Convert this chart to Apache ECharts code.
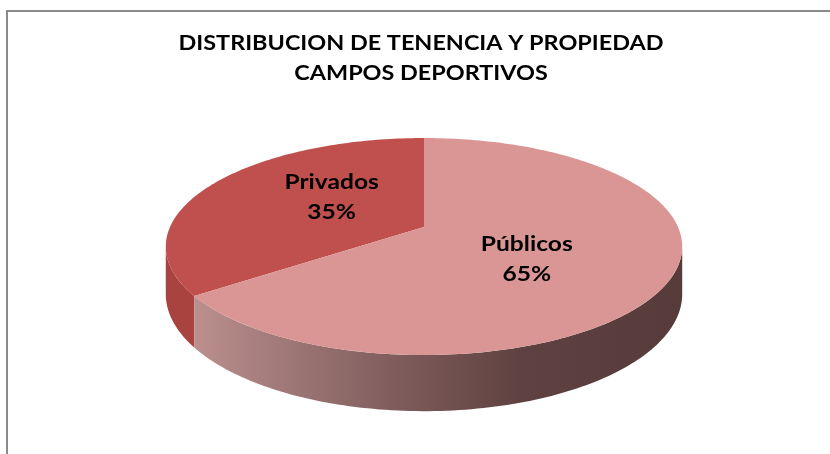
<!DOCTYPE html>
<html lang="es">
<head>
<meta charset="utf-8">
<title>Distribución de tenencia y propiedad</title>
<style>
  html, body { margin: 0; height: 100%; background: #fff; }
  #container { width: 830px; height: 454px; }
</style>
</head>
<body>
<div id="container"></div>
<script src="https://cdn.jsdelivr.net/npm/echarts@6/dist/echarts.min.js"></script>
<script>
// datos del gráfico
var categorias = ['Privados', 'Públicos'];
var valores = [35, 65];
var titulo = ['DISTRIBUCION DE TENENCIA Y PROPIEDAD', 'CAMPOS DEPORTIVOS'];

// colores (cara superior / lateral)
var coloresTop = ['#c0504d', '#d99694'];
var coloresLado = [
  '#a8433f',
  { type: 'linear', x: 0, y: 0, x2: 1, y2: 0, colorStops: [
    { offset: 0, color: '#bb8f8e' },
    { offset: 0.22, color: '#9a7473' },
    { offset: 0.42, color: '#7e5c5b' },
    { offset: 0.67, color: '#5e4140' },
    { offset: 1, color: '#573b3b' }
  ] }
];

// geometría de la torta 3D (perspectiva simple)
var pie = { cx: 424, cy: 227, rx: 254, ry: 105, k: 0.18, depth: 46 };
var total = valores.reduce(function (a, b) { return a + b; }, 0);
var inicio = [];
var acc = 0;
for (var i = 0; i < valores.length; i++) {
  inicio.push(acc / total * Math.PI * 2);
  acc += valores[i];
}
var thL = Math.acos(-pie.k);
var thR = Math.PI * 2 - thL;

// ángulo medido desde arriba, en sentido antihorario
function proj(theta, fu, fw) {
  var u = -Math.sin(theta) * fu;
  var w = Math.cos(theta) * fw;
  var s = 1 / (1 + pie.k * w);
  return [pie.cx + pie.rx * u * s, pie.cy - pie.ry * w * s, s];
}

function arco(a0, a1) {
  var n = Math.max(4, Math.ceil((a1 - a0) / 0.02));
  var pts = [];
  for (var j = 0; j <= n; j++) {
    pts.push(proj(a0 + (a1 - a0) * j / n, 1, 1));
  }
  return pts;
}

// el texto del original es algo más ancho que Lato
var estirar = 1.17;

var myChart = echarts.init(document.getElementById('container'), null, { renderer: 'canvas' });

var option = {
  backgroundColor: '#fff',
  animation: false,
  graphic: [
    {
      type: 'rect',
      shape: { x: 7, y: 11, width: 900, height: 500 },
      style: { fill: 'none', stroke: '#8a8a8a', lineWidth: 2 },
      silent: true
    },
    {
      type: 'text',
      x: 421,
      y: 59,
      scaleX: estirar,
      style: {
        text: titulo.join('\n'),
        fill: '#000',
        fontFamily: 'Lato',
        fontWeight: 'bold',
        fontSize: 20,
        lineHeight: 30,
        align: 'center',
        verticalAlign: 'middle'
      }
    }
  ],
  series: [
    {
      type: 'custom',
      coordinateSystem: 'none',
      data: valores.map(function (v, i) { return { value: v, name: categorias[i] }; }),
      renderItem: function (params, api) {
        var i = params.dataIndex;
        var a0 = inicio[i];
        var a1 = a0 + api.value(0) / total * Math.PI * 2;
        var children = [];

        // cara superior
        var top = [[pie.cx, pie.cy]].concat(arco(a0, a1).map(function (p) { return [p[0], p[1]]; }));
        children.push({ type: 'polygon', shape: { points: top }, style: { fill: coloresTop[i] }, z2: 10 });

        // lateral visible
        var s0 = Math.max(a0, thL), s1 = Math.min(a1, thR);
        if (s1 > s0) {
          var rim = arco(s0, s1);
          var lado = rim.map(function (p) { return [p[0], p[1]]; });
          for (var j = rim.length - 1; j >= 0; j--) {
            lado.push([rim[j][0], rim[j][1] + pie.depth * rim[j][2]]);
          }
          children.push({ type: 'polygon', shape: { points: lado }, style: { fill: coloresLado[i] }, z2: 1 });
        }

        // etiqueta
        var mid = (a0 + a1) / 2;
        var lp = proj(mid, 0.43, 0.65);
        children.push({
          type: 'text',
          x: lp[0],
          y: lp[1],
          scaleX: estirar,
          style: {
            text: categorias[i] + '\n' + Math.round(api.value(0) / total * 100) + '%',
            fill: '#000',
            fontFamily: 'Lato',
            fontWeight: 'bold',
            fontSize: 21,
            lineHeight: 30,
            align: 'center',
            verticalAlign: 'middle'
          },
          z2: 20
        });
        return { type: 'group', children: children };
      }
    }
  ]
};

myChart.setOption(option);
window.addEventListener('resize', myChart.resize);
</script>
</body>
</html>
